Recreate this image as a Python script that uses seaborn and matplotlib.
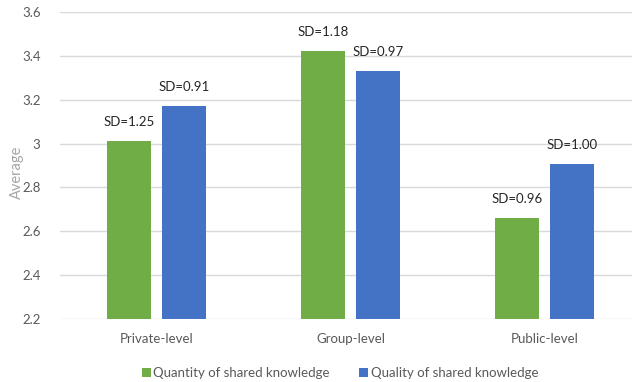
import matplotlib
matplotlib.use("Agg")
import matplotlib.pyplot as plt
import seaborn as sns
import pandas as pd
from matplotlib.patches import Patch

categories = ["Private-level", "Group-level", "Public-level"]
series_names = ["Quantity of shared knowledge", "Quality of shared knowledge"]
quantity = [3.01, 3.42, 2.66]
quality = [3.17, 3.33, 2.905]
sd_quantity = ["SD=1.25", "SD=1.18", "SD=0.96"]
sd_quality = ["SD=0.91", "SD=0.97", "SD=1.00"]
y_ticks = [2.2, 2.4, 2.6, 2.8, 3.0, 3.2, 3.4, 3.6]
y_tick_labels = ["2.2", "2.4", "2.6", "2.8", "3", "3.2", "3.4", "3.6"]

df = pd.DataFrame({
    "category": categories * 2,
    "series": [series_names[0]] * 3 + [series_names[1]] * 3,
    "value": quantity + quality,
})

sns.set_theme(style="white")
plt.rcParams["font.family"] = ["Lato", "DejaVu Sans"]

fig = plt.figure(figsize=(6.32, 3.82), dpi=100)
W, H = 632, 382
ax = fig.add_axes([60 / W, (H - 319) / H, (632 - 60) / W, (319 - 12) / H])

palette = {series_names[0]: "#70AD47", series_names[1]: "#4472C4"}
sns.barplot(data=df, x="category", y="value", hue="series", order=categories,
            hue_order=series_names, palette=palette, width=0.567, gap=0.2,
            saturation=1, ax=ax, legend=False, linewidth=0, zorder=3)

ax.set_ylim(2.2, 3.6)
ax.set_xlim(-0.5, 2.45)
ax.set_yticks(y_ticks)
ax.set_yticklabels(y_tick_labels)
ax.yaxis.grid(True, color="#D9D9D9", linewidth=1.0, zorder=0)
ax.set_axisbelow(True)
for s in ax.spines.values():
    s.set_visible(False)
ax.tick_params(axis="both", length=0, labelsize=9.5, colors="#595959")
ax.tick_params(axis="y", pad=14)
ax.tick_params(axis="x", pad=10)
ax.set_xlabel("")
ax.set_ylabel("Average", fontsize=10.5, color="#A6A6A6")
ax.yaxis.set_label_coords((24 - 60) / 572, (319 - 172) / 307)

# data labels
for cont, labels in zip(ax.containers, [sd_quantity, sd_quality]):
    for bar, lab in zip(cont, labels):
        ax.annotate(lab, (bar.get_x() + bar.get_width() / 2, bar.get_y() + bar.get_height()),
                    xytext=(0, 14), textcoords="offset points", ha="center", va="center",
                    fontsize=9.5, color="#262626")

handles = [Patch(facecolor=palette[n], edgecolor="none") for n in series_names]
leg = fig.legend(handles, series_names, loc="center", bbox_to_anchor=(340 / W, 1 - 373 / H),
                 ncol=2, frameon=False, fontsize=9.5, handlelength=0.7, handleheight=0.7,
                 handletextpad=0.2, columnspacing=2.2, borderaxespad=0)
for t in leg.get_texts():
    t.set_color("#595959")

fig.savefig("out.png", dpi=100)
